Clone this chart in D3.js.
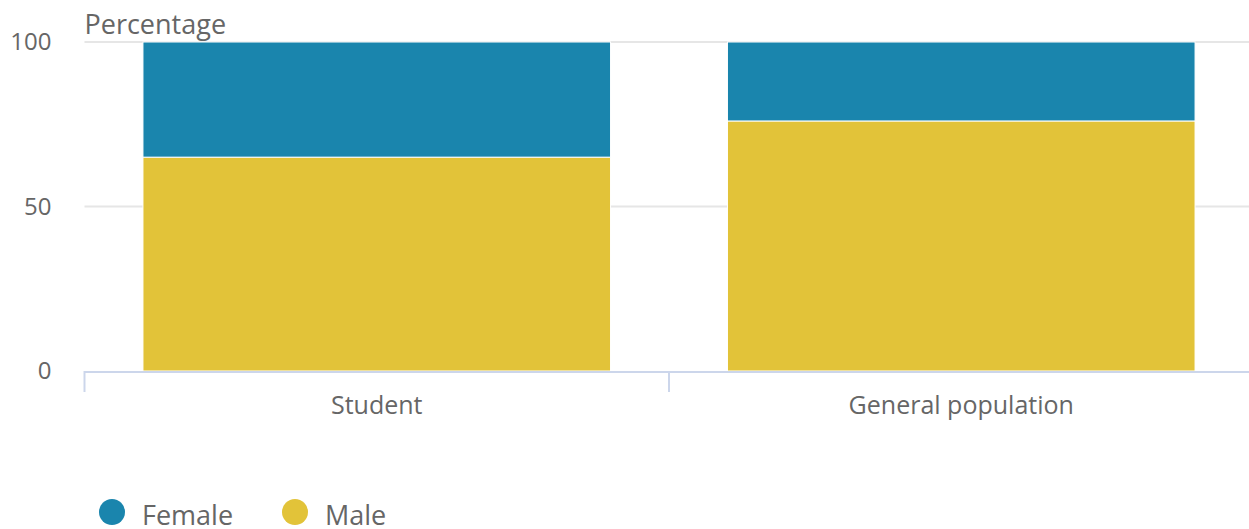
<!DOCTYPE html>
<html>
<head>
<meta charset="utf-8">
<script src="https://cdn.jsdelivr.net/npm/d3@7"></script>
<style>
  html, body { margin: 0; padding: 0; background: #fff; overflow: hidden; }
  svg { display: block; font-family: "Open Sans", sans-serif; }
</style>
</head>
<body>
<svg id="chart" width="1249" height="529"></svg>
<script>
const categories = ["Student", "General population"];
const seriesNames = ["Male", "Female"];
const maleValues = [65, 76];
const femaleValues = [35, 24];
const yTicks = [0, 50, 100];
const legendItems = ["Female", "Male"];

const colors = { Female: "#1a85ad", Male: "#e2c339" };

const svg = d3.select("#chart");
const margin = { top: 42, right: 0, bottom: 158, left: 84 };
const width = 1253 - margin.left - margin.right;
const height = 529 - margin.top - margin.bottom;

const x = d3.scaleBand().domain(categories).range([0, width]).paddingInner(0.2).paddingOuter(0.1);
const y = d3.scaleLinear().domain([0, 100]).range([height, 0]);

const g = svg.append("g").attr("transform", `translate(${margin.left + 0.5},${margin.top})`);

// gridlines
g.selectAll(".grid")
  .data(yTicks.slice(1))
  .enter()
  .append("line")
  .attr("x1", 0)
  .attr("x2", width)
  .attr("y1", (d) => y(d))
  .attr("y2", (d) => y(d))
  .attr("stroke", "#e6e6e6")
  .attr("stroke-width", 2);

// y tick labels
g.selectAll(".ylab")
  .data(yTicks)
  .enter()
  .append("text")
  .attr("x", -33)
  .attr("y", (d) => y(d) + 8)
  .attr("text-anchor", "end")
  .attr("fill", "#666")
  .attr("font-size", 24)
  .text((d) => d);

g.append("text")
  .attr("x", 0)
  .attr("y", -8)
  .attr("fill", "#666")
  .attr("font-size", 27)
  .text("Percentage");

const rows = categories.map((c, i) => ({ cat: c, Male: maleValues[i], Female: femaleValues[i] }));
const stacked = d3.stack().keys(seriesNames)(rows);

g.selectAll(".series")
  .data(stacked)
  .enter()
  .append("g")
  .attr("fill", (d) => colors[d.key])
  .selectAll("rect")
  .data((d) => d)
  .enter()
  .append("rect")
  .attr("x", (d) => x(d.data.cat))
  .attr("y", (d) => y(d[1]))
  .attr("width", x.bandwidth())
  .attr("height", (d) => y(d[0]) - y(d[1]))
  .attr("stroke", "#fff")
  .attr("stroke-width", 1);

// x axis
const tickPositions = d3.range(categories.length + 1).map((i) => i * width / categories.length);
g.append("line")
  .attr("x1", 0)
  .attr("x2", width)
  .attr("y1", height + 1)
  .attr("y2", height + 1)
  .attr("stroke", "#ccd6eb")
  .attr("stroke-width", 2);
g.selectAll(".xtick")
  .data(tickPositions)
  .enter()
  .append("line")
  .attr("x1", (d) => d)
  .attr("x2", (d) => d)
  .attr("y1", height)
  .attr("y2", height + 21)
  .attr("stroke", "#ccd6eb")
  .attr("stroke-width", 2);
g.selectAll(".xlab")
  .data(categories)
  .enter()
  .append("text")
  .attr("x", (d, i) => (i + 0.5) * width / categories.length)
  .attr("y", height + 43)
  .attr("text-anchor", "middle")
  .attr("fill", "#666")
  .attr("font-size", 25)
  .text((d) => d);

// legend
const legend = svg.append("g").attr("transform", "translate(112,512)");
const legendX = [0, 183];
legendItems.forEach((name, i) => {
  const item = legend.append("g").attr("transform", `translate(${legendX[i]},0)`);
  item.append("circle").attr("r", 13).attr("fill", colors[name]);
  item.append("text")
    .attr("x", 30)
    .attr("y", 13)
    .attr("fill", "#666")
    .attr("font-size", 27)
    .text(name);
});
</script>
</body>
</html>
